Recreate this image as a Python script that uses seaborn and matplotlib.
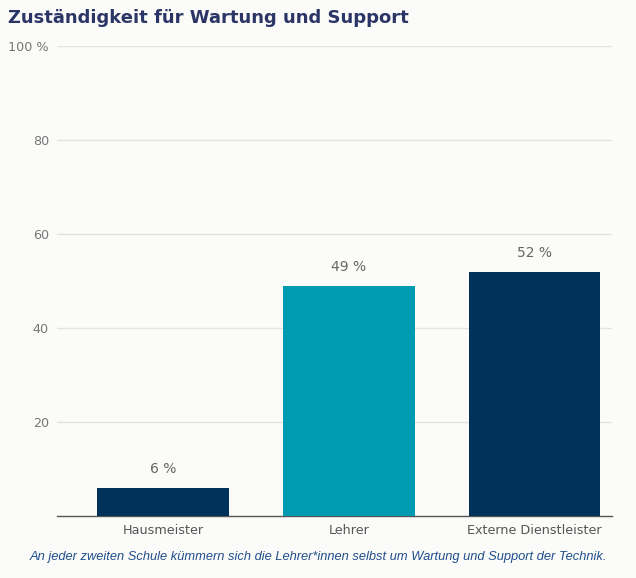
import numpy as np
import pandas as pd
import seaborn as sns
import matplotlib.pyplot as plt

categories = ["Hausmeister", "Lehrer", "Externe Dienstleister"]
values = [6, 49, 52]
bar_colors = ["#00325a", "#009bb0", "#00325a"]
yticks = [20, 40, 60, 80, 100]
ytick_labels = ["20", "40", "60", "80", "100 %"]

df = pd.DataFrame({"kategorie": categories, "anteil": values})

sns.set_style("white")
plt.rcParams['font.family'] = ['DejaVu Sans']

bg = "#fbfbf9"
fig = plt.figure(figsize=(6.36, 5.78), dpi=100, facecolor=bg)
ax = fig.add_axes([0.09, 0.107, 0.873, 0.813], facecolor=bg)

sns.barplot(x="kategorie", y="anteil", data=df, hue="kategorie",
            palette=bar_colors, legend=False, width=0.71, saturation=1,
            linewidth=0, ax=ax, zorder=3)

ax.set_ylim(0, 100)
ax.set_xlim(-0.57, 2.42)
ax.set_yticks(yticks)
ax.set_yticklabels(ytick_labels)
ax.yaxis.grid(True, color="#e3e3e3", linewidth=1, zorder=0)
ax.set_xlabel("")
ax.set_ylabel("")
for s in ["left", "right", "top"]:
    ax.spines[s].set_visible(False)
ax.spines["bottom"].set_color("#555555")
ax.spines["bottom"].set_linewidth(1)
ax.tick_params(axis="both", length=0, colors="#777777", labelsize=9.2)
ax.tick_params(axis="x", pad=6, colors="#555555")
ax.tick_params(axis="y", pad=6)

for i, v in enumerate(values):
    ax.text(i, v + 2.6, f"{v} %", ha="center", va="bottom",
            fontsize=10, color="#666666")

fig.text(0.012, 0.968, "Zuständigkeit für Wartung und Support",
         fontsize=13, fontweight="bold", color="#2b3566", va="center")
fig.text(0.5, 0.036,
         "An jeder zweiten Schule kümmern sich die Lehrer*innen selbst um Wartung und Support der Technik.",
         fontsize=9.3, style="italic", color="#1f4e8c", ha="center", va="center",
         family=["Liberation Sans"])

fig.savefig("out.png", dpi=100, facecolor=bg)
